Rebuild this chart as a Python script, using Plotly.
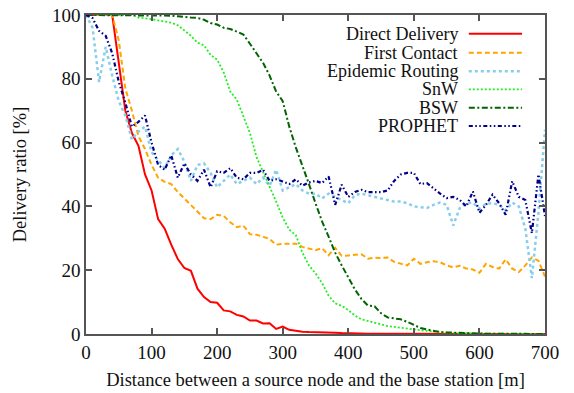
import plotly.graph_objects as go

distance = list(range(0, 701, 10))

direct_delivery = [100, 100, 100, 100, 100, 85, 70, 63, 59, 50,
                   45, 36, 33, 28, 23.5, 20.7, 19.8, 14.2, 11.6, 10,
                   9.8, 7.4, 7.1, 6, 5.5, 4.2, 4.2, 3.3, 3.4, 1.6,
                   2.3, 1.3, 0.9, 0.7, 0.6, 0.6, 0.5, 0.5, 0.4, 0.3,
                   0.2, 0.2, 0.2, 0.1, 0.1, 0.1, 0.1, 0.1, 0.1, 0.1,
                   0.1, 0.1, 0.1, 0.1, 0.1, 0.1, 0, 0, 0, 0,
                   0, 0, 0, 0, 0, 0, 0, 0, 0, 0, 0]

first_contact = [100, 100, 100, 100, 100, 92, 77, 70, 62, 58,
                 53, 49, 47.7, 47, 44.5, 42.5, 40.5, 38.5, 36.3, 36,
                 37.4, 37, 35, 33.5, 34, 31.3, 31.1, 30.5, 29.8, 28,
                 28.3, 28.3, 28.3, 27.3, 26.8, 26.3, 26.9, 24.7, 27, 24.5,
                 24.6, 24.8, 25, 23.6, 23.9, 23.8, 24, 22.6, 22, 21.5,
                 23.6, 22, 22.5, 22.8, 22.5, 21.5, 20.9, 21.4, 20.5, 20.2,
                 19.2, 22, 21, 20.5, 23.4, 20.5, 19.4, 21.5, 24, 23, 18]

epidemic = [100, 96, 79, 90, 81, 73, 68.5, 61, 63.5, 65,
            57, 54.5, 52, 56, 58, 54, 48, 53, 53.5, 50.5,
            46, 48, 50, 47, 48, 49, 47, 49, 46.5, 51.5,
            45, 46, 47, 45, 44, 44, 42.5, 44, 43, 42,
            41, 43.5, 44, 43.5, 43, 42.5, 42, 41.5, 41.5, 41,
            40, 39.8, 39.5, 40.5, 41.2, 40.5, 34, 39.5, 41, 41.2,
            39.3, 40.8, 41, 40.5, 38.8, 41.2, 40, 33, 17.5, 38, 64]

snw = [100, 100, 100, 100, 100, 100, 100, 100, 99.2, 99,
       98.7, 98.3, 98, 97.6, 96.8, 95.2, 93.5, 91.3, 90.5, 87.5,
       86, 82, 76, 73.5, 68.3, 63, 55.5, 51, 46.5, 41.5,
       36.5, 32.7, 31, 25.5, 21.5, 19, 16, 12, 9.6, 8.8,
       7.5, 5.8, 4.6, 4, 3.5, 3, 2.5, 2.2, 1.9, 1.6,
       1.4, 1.2, 1, 0.7, 0.5, 0.4, 0.3, 0.2, 0.2, 0.1,
       0.1, 0.1, 0.1, 0.1, 0.1, 0, 0, 0, 0, 0, 0]

bsw = [100, 100, 100, 100, 100, 100, 100, 100, 100, 100,
       100, 100, 100, 99.8, 99.6, 99.3, 99.2, 99.1, 98.5, 97.5,
       97, 96, 95.6, 94.8, 93.9, 91, 88, 85, 81, 76,
       73, 65, 58.5, 53, 47, 41, 35.3, 30.5, 25.5, 21.5,
       17.5, 14, 11, 8.9, 8.7, 6.5, 5.2, 5, 4.6, 3.8,
       2.8, 1.9, 1.4, 0.9, 0.6, 0.5, 0.4, 0.3, 0.3, 0.2,
       0.2, 0.1, 0.1, 0.1, 0.1, 0.1, 0, 0, 0, 0, 0]

prophet = [100, 99, 95, 93.5, 88, 79, 72.5, 65, 66.5, 68.5,
           60, 53, 51.5, 56, 49, 53.5, 50, 48, 51.5, 46,
           51, 50.5, 52, 49, 48.5, 50.5, 50.5, 51.5, 48, 48.5,
           47.8, 47, 48.5, 46.5, 47.5, 48, 47.3, 49.4, 40.5, 46.8,
           43, 44.5, 45.2, 44.5, 44.5, 44.5, 45, 48, 50, 50.5,
           50.5, 47, 47.3, 45.5, 44, 42.6, 43, 42, 40, 44.7,
           38, 40.5, 43.7, 41, 37.4, 47.9, 43, 42, 31.6, 50, 37]

series_names = ["Direct Delivery", "First Contact", "Epidemic Routing", "SnW", "BSW", "PROPHET"]
series_values = [direct_delivery, first_contact, epidemic, snw, bsw, prophet]
colors = ["#ff0000", "#ffa500", "#87ceeb", "#22ee22", "#006400", "#00008b"]
dashes = ["solid", "5px,3px", "3px,3px", "2px,2px", "6px,2.5px,2px,2.5px", "4px,2.5px,1.5px,2.5px,1.5px,2.5px"]
widths = [2, 2, 2.5, 1.8, 2, 2.2]

x_ticks = [0, 100, 200, 300, 400, 500, 600, 700]
y_ticks = [0, 20, 40, 60, 80, 100]

FONT = "Liberation Serif"

fig = go.Figure()
for name, vals, c, d, w in zip(series_names, series_values, colors, dashes, widths):
    fig.add_trace(go.Scatter(x=distance, y=vals, mode="lines", name=name,
                             line=dict(color=c, dash=d, width=w), showlegend=False))

# gnuplot-style legend: text right-aligned, sample line to the right
legend_y = [0.941, 0.882, 0.824, 0.767, 0.709, 0.652]
shapes = []
annotations = []
for name, c, d, w, ly in zip(series_names, colors, dashes, widths, legend_y):
    annotations.append(dict(x=0.815, y=ly, xref="paper", yref="paper", text=name,
                            showarrow=False, xanchor="right", yanchor="middle",
                            font=dict(family=FONT, size=18, color="#111")))
    shapes.append(dict(type="line", xref="paper", yref="paper", x0=0.834, x1=0.950,
                       y0=ly, y1=ly, line=dict(color=c, dash=d, width=w)))

axis_common = dict(showline=True, linecolor="#555", linewidth=1.5, mirror="ticks",
                   ticks="inside", ticklen=6, tickcolor="#555", tickwidth=1.5,
                   showgrid=False, zeroline=False, automargin=False,
                   tickfont=dict(family=FONT, size=19, color="#111"))

fig.update_layout(
    width=574, height=393,
    margin=dict(l=86, r=29, t=15, b=59),
    paper_bgcolor="white", plot_bgcolor="white",
    xaxis=dict(range=[0, 700], tickvals=x_ticks, ticktext=[str(v) for v in x_ticks],
               title=dict(text="Distance between a source node and the base station [m]",
                          font=dict(family=FONT, size=18.5, color="#111"), standoff=12),
               **axis_common),
    yaxis=dict(range=[0, 100], tickvals=y_ticks, ticktext=[str(v) for v in y_ticks],
               title=dict(text="Delivery ratio [%]",
                          font=dict(family=FONT, size=18.5, color="#111"), standoff=20),
               **axis_common),
    shapes=shapes, annotations=annotations,
)

fig.write_html("out.html", config={"displayModeBar": False},
               post_script="document.body.style.margin='0px';")
